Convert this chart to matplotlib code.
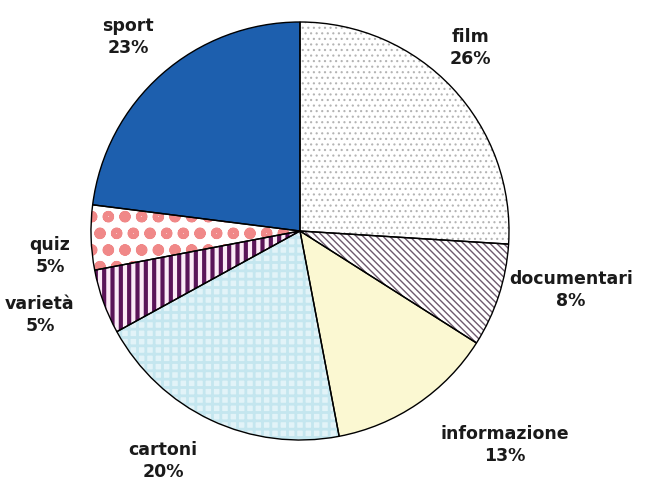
import matplotlib
matplotlib.use('Agg')
import matplotlib.pyplot as plt

# data
labels = ['film', 'documentari', 'informazione', 'cartoni', 'varietà', 'quiz', 'sport']
values = [26, 8, 13, 20, 5, 5, 23]

# styles per slice
faces = ['white', 'white', '#fbf8d2', '#e2f3f8', '#fbeaf6', 'white', '#1d5fae']
hatch_colors = ['#b4b4b4', '#6e5a6e', '#fbf8d2', '#c4e6ef', '#5a1458', '#f08888', '#1d5fae']
hatches = ['...', '\\\\\\\\\\', None, '++', '||', 'o', None]
hatch_widths = [0.8, 1.0, 1.0, 2.0, 3.0, 3.5, 1.0]

# label positions (pixel coords, y up)
label_xy = [(470, 444), (571, 202), (505, 47), (163, 31), (40, 177), (50, 236), (128, 455)]

fig = plt.figure(figsize=(6.61, 4.92), dpi=100)
ax = fig.add_axes([0, 0, 1, 1])

center = (300, 261)
radius = 209

# filled layer with hatches
wedges, _ = ax.pie(values, startangle=90, counterclock=False, center=center,
                   radius=radius, colors=faces, frame=True)
for w, h, hc, hw in zip(wedges, hatches, hatch_colors, hatch_widths):
    w.set_linewidth(0)
    if h:
        w.set_hatch(h)
        w.set_edgecolor(hc)
        if hasattr(w, 'set_hatch_linewidth'):
            w.set_hatch_linewidth(hw)

# outline layer
ax.pie(values, startangle=90, counterclock=False, center=center,
       radius=radius, frame=True,
       wedgeprops=dict(fill=False, edgecolor='black', linewidth=1.0))

ax.set_xlim(0, 661)
ax.set_ylim(0, 492)
ax.set_aspect('equal')
ax.axis('off')

for lab, v, (x, y) in zip(labels, values, label_xy):
    ax.text(x, y, f'{lab}\n{v}%', ha='center', va='center', fontsize=12.5,
            fontweight='bold', linespacing=1.35, color='#1a1a1a')

fig.savefig('out.png', dpi=100)
